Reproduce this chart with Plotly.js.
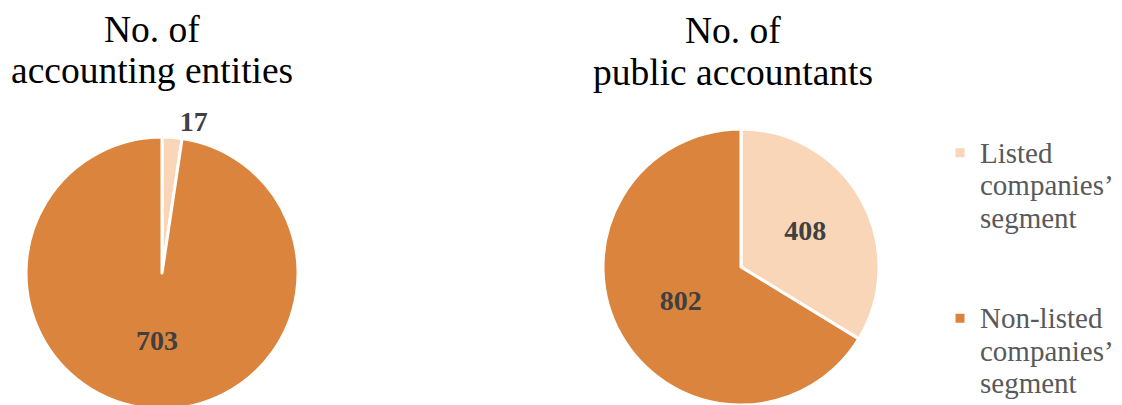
<!DOCTYPE html>
<html>
<head>
<meta charset="utf-8">
<script src="https://cdn.plot.ly/plotly-3.0.1.min.js"></script>
<style>
html,body{margin:0;padding:0;overflow:hidden;background:#fff;}
#chart{width:1122px;height:410px;}
</style>
</head>
<body>
<div id="chart"></div>
<script>
// ---- data ----
const segments = ['Listed companies’ segment', 'Non-listed companies’ segment'];
const legendText = [
  'Listed<br>companies’<br>segment<br>\u00a0<br>\u00a0',
  'Non-listed<br>companies’<br>segment'
];
const entitiesValues = [17, 703];
const accountantsValues = [408, 802];
const titleEntities = ['No. of', 'accounting entities'];
const titleAccountants = ['No. of', 'public accountants'];
const colors = ['#F9D6B7', '#DB843D'];

// ---- layout helpers ----
const W = 1122, H = 410;
const fx = x => x / W;
const fy = y => (H - y) / H;
const SERIF = '"Liberation Serif", "Times New Roman", Times, serif';
const wrap = s => s.split('<br>').map(l => '<span style="font-size:29px">' + l + '</span>').join('<br>');

const labelFont = {family: SERIF, size: 28, color: '#404040', weight: 'bold'};

const common = {
  type: 'pie',
  labels: legendText.map(wrap),
  sort: false,
  direction: 'clockwise',
  rotation: 0,
  textinfo: 'value',
  insidetextorientation: 'horizontal',
  marker: {colors: colors, line: {color: '#ffffff', width: 3}},
  textfont: labelFont,
  insidetextfont: labelFont,
  outsidetextfont: labelFont,
  hoverinfo: 'label+value'
};

const traces = [
  Object.assign({}, common, {
    values: entitiesValues,
    textposition: ['outside', 'inside'],
    domain: {x: [fx(26), fx(298)], y: [fy(409), fy(137)]}
  }),
  Object.assign({}, common, {
    values: accountantsValues,
    textposition: ['inside', 'inside'],
    domain: {x: [fx(603), fx(879)], y: [fy(405), fy(129)]}
  })
];

const titleFont = {family: SERIF, size: 37.5, color: '#000000'};
function titleAnn(text, cx, top) {
  return {text: text, xref: 'paper', yref: 'paper', x: fx(cx), y: fy(top),
          xanchor: 'center', yanchor: 'top', showarrow: false, font: titleFont};
}

const layout = {
  width: W, height: H,
  margin: {l: 0, r: 0, t: 0, b: 0},
  paper_bgcolor: '#ffffff',
  font: {family: SERIF},
  showlegend: true,
  legend: {
    x: fx(940), y: fy(130), xanchor: 'left', yanchor: 'top',
    valign: 'top',
    font: {family: SERIF, size: 25, color: '#595959'},
    itemwidth: 30,
    bgcolor: 'rgba(0,0,0,0)'
  },
  annotations: [
    titleAnn(titleEntities[0], 152, 7),
    titleAnn(titleEntities[1], 152, 48),
    titleAnn(titleAccountants[0], 733, 8),
    titleAnn(titleAccountants[1], 733, 50)
  ]
};

Plotly.newPlot('chart', traces, layout, {displayModeBar: false, staticPlot: true});
</script>
</body>
</html>
